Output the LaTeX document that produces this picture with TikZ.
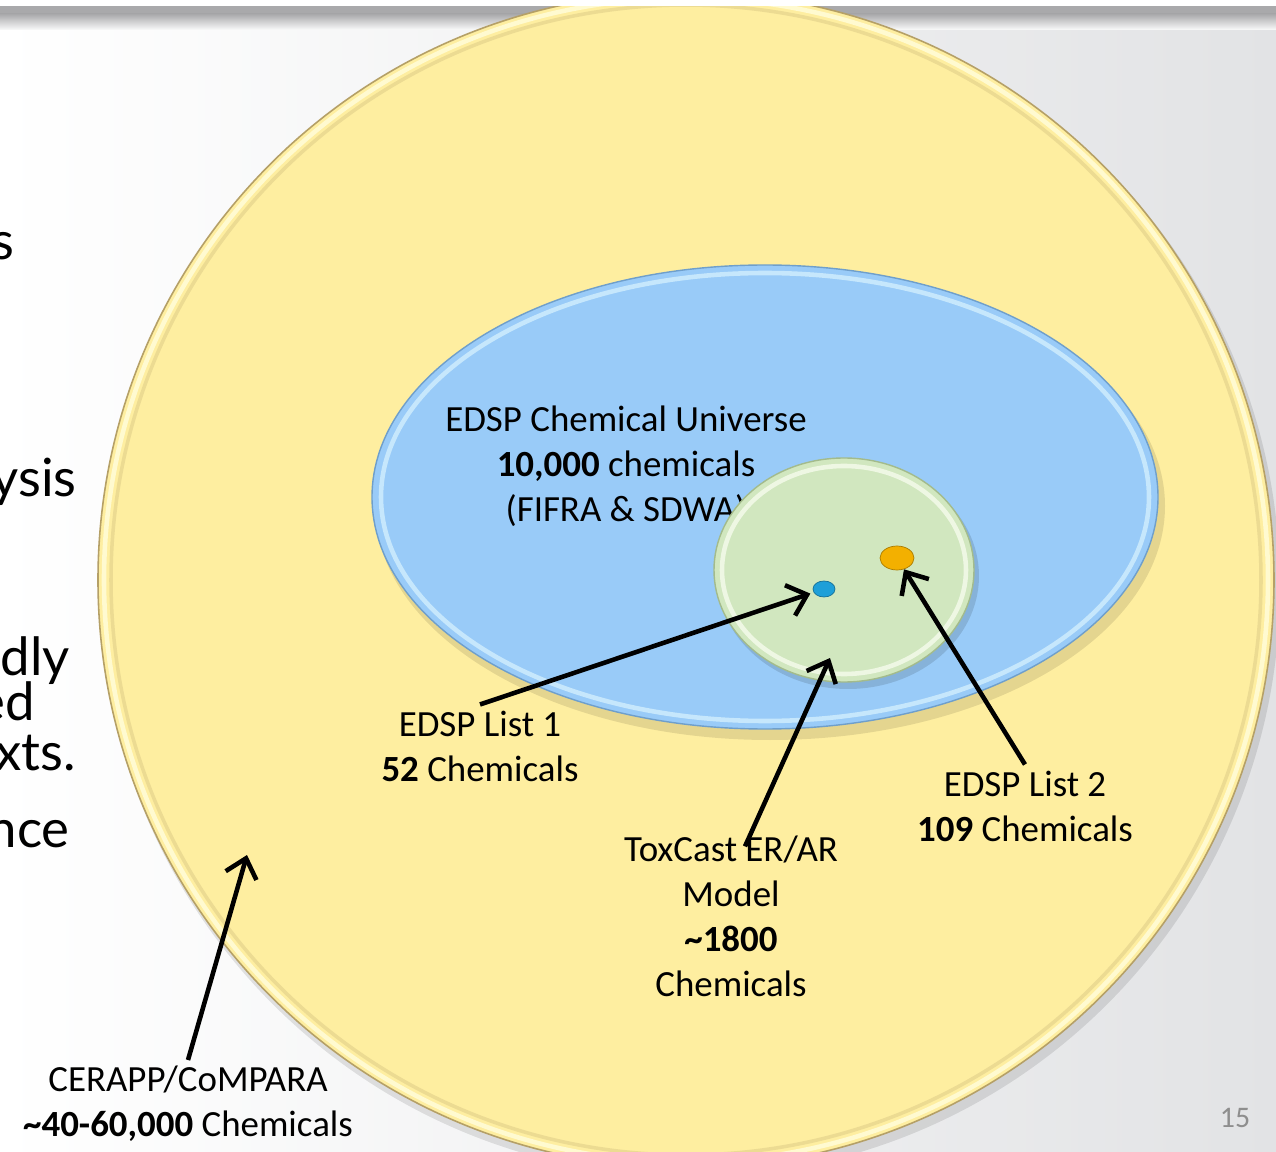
\documentclass[tikz,border=0pt]{standalone}
\usepackage{fontspec}
\setmainfont{Carlito}
\newfontfamily\slidefont{Lato}
\usetikzlibrary{shapes.geometric,arrows.meta}
\usepackage{xcolor}
\definecolor{bggray}{HTML}{E2E3E5}
\definecolor{bardark}{HTML}{A9A9AB}
\definecolor{yellowfill}{HTML}{FEEEA0}
\definecolor{yellowedge}{HTML}{B5A067}
\definecolor{yellowlight}{HTML}{FFFAD0}
\definecolor{bluefill}{HTML}{99CBF8}
\definecolor{blueedge}{HTML}{6F9FCB}
\definecolor{bluelight}{HTML}{C6E7FC}
\definecolor{greenfill}{HTML}{D1E7BF}
\definecolor{greenedge}{HTML}{A3BB8C}
\definecolor{greenlight}{HTML}{EEF7E3}
\definecolor{dotblue}{HTML}{1E9FD8}
\definecolor{dotorange}{HTML}{F3B000}
\definecolor{pagegray}{HTML}{8E8E8E}

\tikzset{
	pointer/.style={-{Straight Barb[length=3.6mm,width=6.4mm]}, line width=2.6pt, black},
	chemtext/.style={align=center, font=\fontsize{21}{25.6}\selectfont},
	fragment/.style={font=\slidefont\fontsize{30}{34}\selectfont, inner sep=0pt},
	chemdot/.style={ellipse, inner sep=0pt, draw=#1!70!black, line width=0.4pt, fill=#1},
}

\begin{document}
\begin{tikzpicture}[x=0.02cm,y=-0.02cm]
		\useasboundingbox (0,0) rectangle (1276,1152);
		\shade[left color=white, middle color=white!70!bggray, right color=bggray] (0,0) rectangle (1276,1152); % fondo
		\fill[bardark] (0,6) rectangle (1276,14);
		\shade[top color=bardark, bottom color=white!85!bggray] (0,14) rectangle (1276,30);
		\foreach \txt/\xr/\yb in {s/15/260, ysis/77/497, dly/70/675, ed/35/720, xts./76/770, nce/70/847}
		\node[fragment, anchor=base east] (frag\yb) at (\xr,\yb) {\txt};
		% circulo grande
		\fill[black, opacity=.10] (690,587) circle [radius=590];
		\fill[yellowfill] (686,580) circle [radius=588];
		\draw[yellowedge, line width=0.9pt] (686,580) circle [radius=588];
		\draw[yellowlight, line width=2.6pt] (686,580) circle [radius=582];
		\draw[yellowedge!25!yellowfill, line width=2pt] (686,580) circle [radius=575];
		% elipse azul
		\fill[black, opacity=.10] (770,506) ellipse [x radius=395, y radius=234];
		\fill[bluefill] (765,497) ellipse [x radius=393, y radius=232];
		\draw[blueedge, line width=0.8pt] (765,497) ellipse [x radius=393, y radius=232];
		\draw[bluelight, line width=2.6pt] (765,497) ellipse [x radius=384, y radius=224];
		\node[chemtext] (universe) at (626,466) {EDSP Chemical Universe\\\textbf{10,000} chemicals\\(FIFRA \& SDWA)};
		% circulo verde
		\fill[black, opacity=.12] (848,576) ellipse [x radius=131, y radius=113];
		\fill[greenfill] (844,570) ellipse [x radius=130, y radius=112];
		\draw[greenedge, line width=0.8pt] (844,570) ellipse [x radius=130, y radius=112];
		\draw[greenlight, line width=2.6pt] (844,570) ellipse [x radius=122, y radius=104];
		\node[chemdot=dotblue, minimum width=0.44cm, minimum height=0.32cm] (list1dot) at (824,589) {};
		\node[chemdot=dotorange, minimum width=0.68cm, minimum height=0.48cm] (list2dot) at (897,558) {};
		\coordinate (toxtip) at (830,658);
		\coordinate (cerapptip) at (247,855);
		% etiquetas
		\node[chemtext] (list1) at (480,746) {EDSP List 1\\\textbf{52} Chemicals};
		\node[chemtext] (list2) at (1025,806) {EDSP List 2\\\textbf{109} Chemicals};
		\node[chemtext] (tox) at (731,916) {ToxCast ER/AR\\Model\\\textbf{\textasciitilde1800}\\Chemicals};
		\node[chemtext] (cerapp) at (188,1104) {CERAPP/CoMPARA\\\textbf{\textasciitilde40-60,000} Chemicals};
		\node[font=\fontsize{17}{20}\selectfont, text=pagegray] (pagenum) at (1235,1118) {15};
		% flechas
		\draw[pointer, shorten >=2pt] (list1.north) -- (list1dot);
		\draw[pointer] (list2.north) -- (list2dot);
		\draw[pointer] ([xshift=2.8mm,yshift=-3.4mm]tox.north) -- (toxtip);
		\draw[pointer] (cerapp.north) -- (cerapptip);
		\fill[white] (0,0) rectangle (1276,6);
\end{tikzpicture}
\end{document}
